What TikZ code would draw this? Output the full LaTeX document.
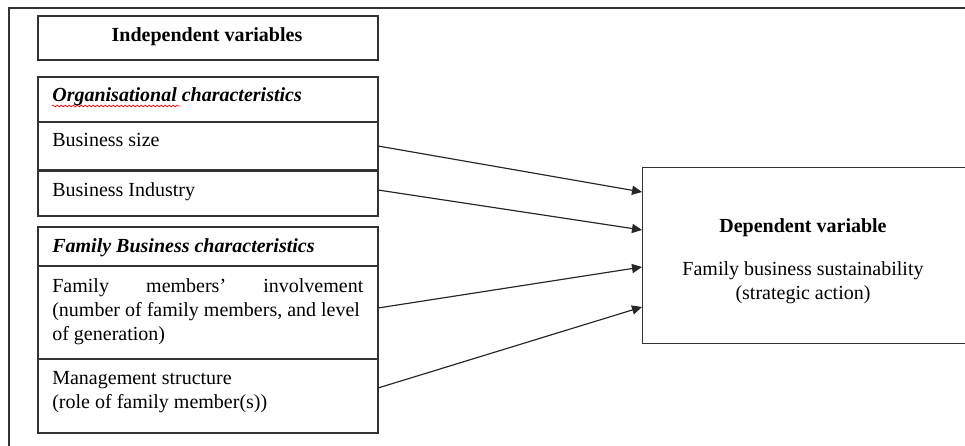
\documentclass[tikz,border=0pt]{standalone}
\usepackage{fontspec}
\setmainfont{Liberation Serif}
\usetikzlibrary{arrows.meta,decorations.pathmorphing}
\begin{document}
\begin{tikzpicture}[x=0.6pt,y=-0.6pt,font=\fontsize{12}{14.4}\selectfont,
  boxline/.style={draw=black!80,line width=0.8pt},
  celltext/.style={inner sep=0pt,anchor=base west},
  linkarrow/.style={draw=black!85,line width=0.7pt,-{Triangle[length=6pt,width=5.5pt]}}]
  \useasboundingbox (0,0) rectangle (965,446);
  \clip (0,0) rectangle (965,446);
  %% outer frame, cut off at the right and bottom edge
  \draw[boxline] (9,8) rectangle (990,470);

  %% left column: header box and the two groups of cells
  \draw[boxline] (38,16) rectangle (378,60);
  \draw[boxline] (38,77) rectangle (378,216);
  \draw[boxline] (38,122) -- (378,122);
  \draw[boxline,line width=1.8pt] (38,171) -- (378,171);
  \draw[boxline] (38,227) rectangle (378,433);
  \draw[boxline] (38,266) -- (378,266);
  \draw[boxline] (38,359) -- (378,359);

  \node[celltext,anchor=base] (indep) at (207,42) {\textbf{Independent variables}};
  \node[celltext] (orghead) at (52,102) {\textbf{\textit{Organisational characteristics}}};
  \draw[red,line width=0.4pt,decorate,decoration={snake,amplitude=0.5pt,segment length=2.4pt}]
    (52,106) -- (180,106);
  \node[celltext] (size) at (52,147) {Business size};
  \node[celltext] (industry) at (52,197) {Business Industry};
  \node[celltext] (famhead) at (52,253) {\textbf{\textit{Family Business characteristics}}};
  %% first line is justified by hand, the tikz align keys fix the word spaces
  \node[inner sep=0pt,anchor=north west,text width=200pt,align=left] (involve) at (52,278)
    {\spaceskip=0pt\xspaceskip=0pt\relax
     \hbox to 186.6pt{Family\hfill members'\hfill involvement}\\(number of family members, and level\\of generation)};
  \node[inner sep=0pt,anchor=north west,text width=200pt,align=left] (mgmt) at (52,371)
    {\spaceskip=0pt\xspaceskip=0pt\relax Management structure\\(role of family member(s))};

  %% right box, also cut off at the right edge
  \node[boxline,inner sep=0pt,anchor=north west,minimum width=194.4pt,minimum height=105.6pt] (dep) at (642,167) {};
  \node[celltext,anchor=base] (deptitle) at (803,233) {\textbf{Dependent variable}};
  \node[inner sep=0pt,anchor=north,align=center] (depdesc) at (803,261)
    {\spaceskip=0pt\xspaceskip=0pt\relax Family business sustainability\\(strategic action)};

  %% arrow ends: right edge of each cell, left edge of the right box
  \coordinate (sizeout) at (378,146);
  \coordinate (industryout) at (378,190);
  \coordinate (involveout) at (378,308);
  \coordinate (mgmtout) at (378,388);
  \coordinate (depin1) at (642,192);
  \coordinate (depin2) at (642,230);
  \coordinate (depin3) at (642,267);
  \coordinate (depin4) at (642,307);
  \draw[linkarrow] (sizeout) -- (depin1);
  \draw[linkarrow] (industryout) -- (depin2);
  \draw[linkarrow] (involveout) -- (depin3);
  \draw[linkarrow] (mgmtout) -- (depin4);
\end{tikzpicture}
\end{document}
